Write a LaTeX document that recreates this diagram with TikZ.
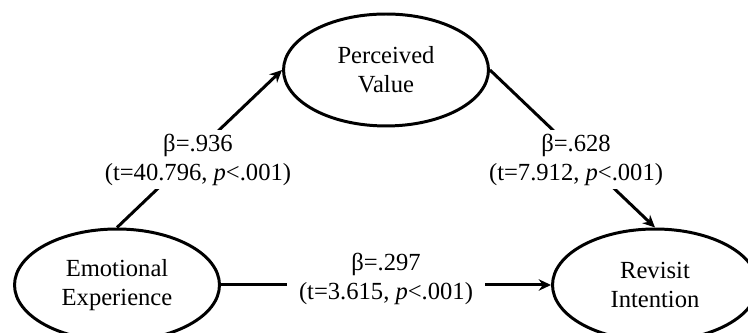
\documentclass[tikz,border=0pt]{standalone}
\usepackage{fontspec}
\setmainfont{Liberation Serif}
\usetikzlibrary{shapes.geometric, arrows.meta, positioning}
\tikzset{
    construct/.style={
        ellipse, draw=black, line width=1.7pt,
        minimum width=4.1cm, minimum height=2.24cm,
        font=\fontsize{14}{16.5}\selectfont, align=center, inner sep=0pt
    },
    arrow/.style={-{Stealth[length=7pt, width=6.5pt]}, line width=1.7pt},
    coef/.style={fill=white, font=\fontsize{14}{16.5}\selectfont, align=center, inner sep=2pt}
}
\begin{document}
\begin{tikzpicture}[x=0.02cm, y=-0.02cm]

    \clip (0,0) rectangle (748,333);

    % Constructs
    \node[construct] (pv) at (386,70) {Perceived\\Value};
    \node[construct] (ee) at (117,285) {Emotional\\Experience};
    \node[construct] (ri) at (655,285) {Revisit\\Intention};

    % Paths with coefficients
    \draw[arrow] (ee.north) -- node[coef, pos=0.43, xshift=0.2cm] {β=.936\\(t=40.796, \textit{p}<.001)} (pv.west);
    \draw[arrow] (pv.east) -- node[coef, pos=0.57, xshift=-0.16cm] {β=.628\\(t=7.912, \textit{p}<.001)} (ri.north);
    \draw[arrow] (ee.east) -- node[coef, inner xsep=7pt, yshift=0.12cm] {β=.297\\(t=3.615, \textit{p}<.001)} (ri.west);

\end{tikzpicture}
\end{document}
